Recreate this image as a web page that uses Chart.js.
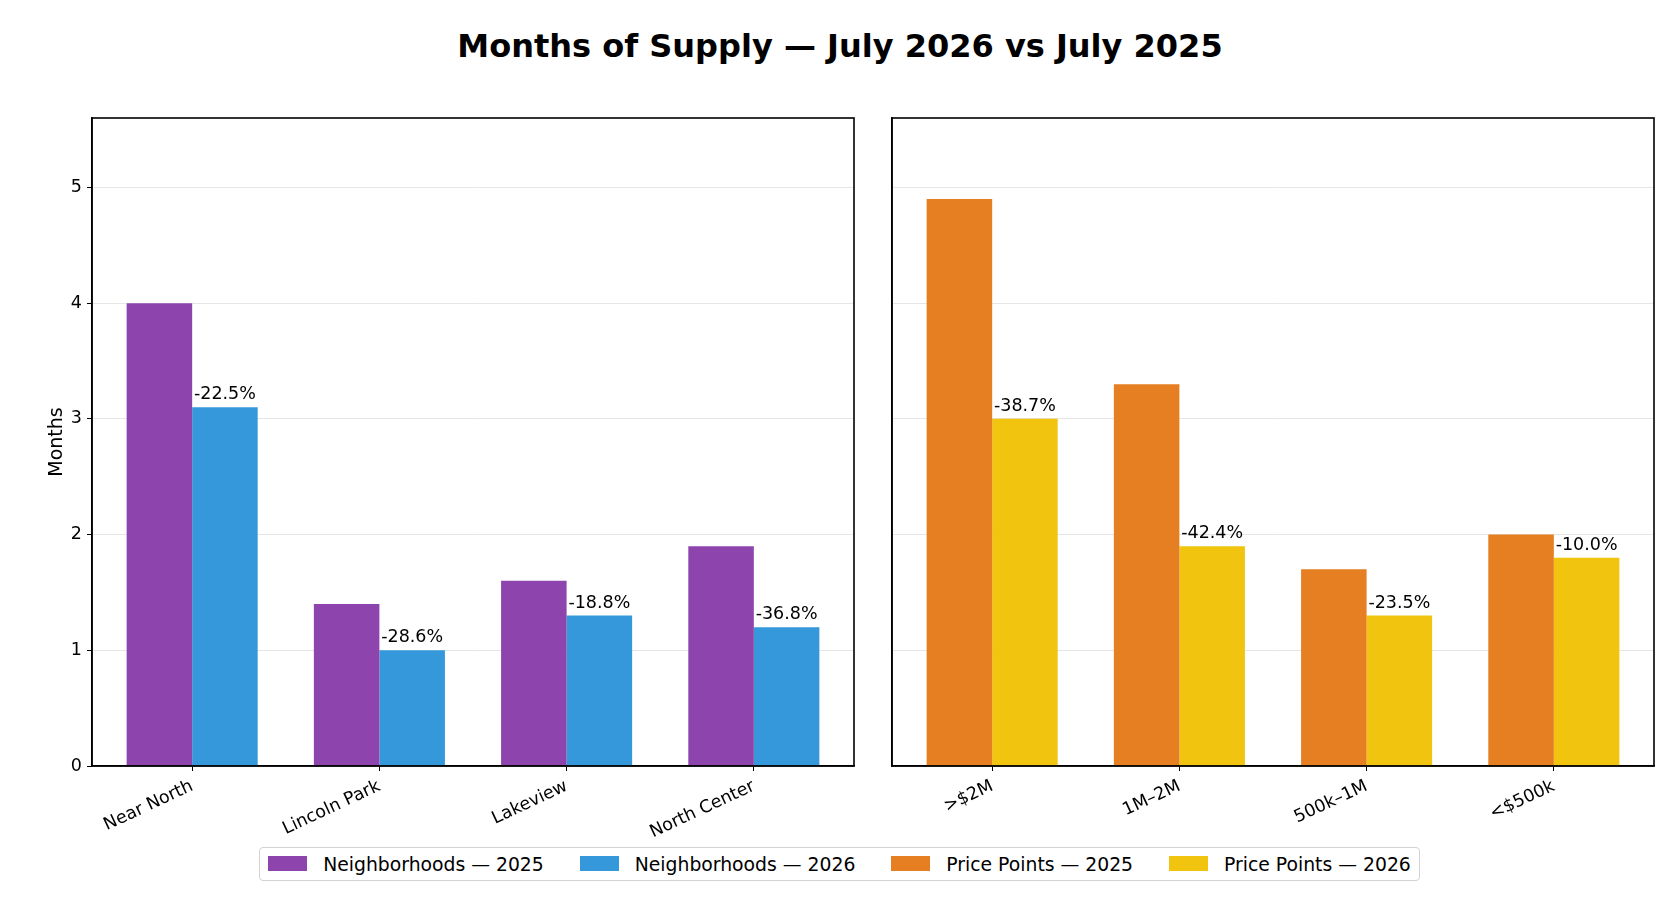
<!DOCTYPE html>
<html>
<head>
<meta charset="utf-8">
<title>Months of Supply</title>
<script src="https://cdn.jsdelivr.net/npm/chart.js@4.4.1/dist/chart.umd.min.js"></script>
<style>
    html, body { margin: 0; padding: 0; background: #fff; }
    body { width: 1680px; height: 913px; position: relative; overflow: hidden; font-family: "DejaVu Sans", sans-serif; }
    #title { position: absolute; left: 0; top: 28px; width: 1680px; text-align: center; font-weight: bold; font-size: 32px; line-height: 36px; color: #000; }
    .panel { position: absolute; top: 0; height: 913px; }
    #leftPanel { left: 0; width: 870px; }
    #rightPanel { left: 870px; width: 810px; }
    #legend { position: absolute; left: 259px; top: 847px; width: 1159px; height: 32px; border: 1px solid #d3d3d3; border-radius: 4px; display: flex; align-items: center; justify-content: center; background: #fff; }
    .item { display: flex; align-items: center; margin-right: 36px; font-size: 18.8px; color: #000; }
    .item:last-child { margin-right: 0; }
    .patch { width: 39px; height: 15px; margin-right: 16px; margin-top: -2px; }
</style>
</head>
<body>
<div id="title">Months of Supply — July 2026 vs July 2025</div>
<div class="panel" id="leftPanel"><canvas id="nbhd"></canvas></div>
<div class="panel" id="rightPanel"><canvas id="price"></canvas></div>
<div id="legend"></div>

<script>
// data
var neighborhoods = ['Near North', 'Lincoln Park', 'Lakeview', 'North Center'];
var nbhd2025 = [4.0, 1.4, 1.6, 1.9];
var nbhd2026 = [3.1, 1.0, 1.3, 1.2];
var nbhdChange = ['-22.5%', '-28.6%', '-18.8%', '-36.8%'];

var pricePoints = ['>$2M', '1M–2M', '500k–1M', '<$500k'];
var price2025 = [4.9, 3.3, 1.7, 2.0];
var price2026 = [3.0, 1.9, 1.3, 1.8];
var priceChange = ['-38.7%', '-42.4%', '-23.5%', '-10.0%'];

var yTicks = [0, 1, 2, 3, 4, 5];

var colors = {
    nbhd2025: '#8e44ad',
    nbhd2026: '#3498db',
    price2025: '#e67e22',
    price2026: '#f1c40f'
};

Chart.defaults.font.family = '"DejaVu Sans", sans-serif';
Chart.defaults.color = '#000';

function points(values) {
    return values.map(function (v, i) {
        return {x: i, y: v};
    });
}

// black box round the plot area
var framePlugin = {
    id: 'frame',
    afterDraw: function (chart) {
        var a = chart.chartArea;
        var ctx = chart.ctx;
        ctx.save();
        ctx.strokeStyle = '#000';
        ctx.lineWidth = 1.6;
        ctx.strokeRect(a.left, a.top, a.right - a.left, a.bottom - a.top);
        ctx.restore();
    }
};

// % change text over the 2026 bars
var changePlugin = {
    id: 'changeLabels',
    afterDatasetsDraw: function (chart, args, opts) {
        var meta = chart.getDatasetMeta(1);
        var ctx = chart.ctx;
        ctx.save();
        ctx.font = '17.5px "DejaVu Sans", sans-serif';
        ctx.fillStyle = '#000';
        ctx.textAlign = 'center';
        ctx.textBaseline = 'alphabetic';
        meta.data.forEach(function (bar, i) {
            ctx.fillText(opts.labels[i], bar.x, bar.y - 8);
        });
        ctx.restore();
    }
};

function makeChart(canvasId, cats, series, names, cols, changes, showY, pad, yWidth) {
    return new Chart(document.getElementById(canvasId), {
        type: 'bar',
        data: {
            datasets: [
                {label: names[0], data: points(series[0]), backgroundColor: cols[0], borderWidth: 0},
                {label: names[1], data: points(series[1]), backgroundColor: cols[1], borderWidth: 0}
            ]
        },
        options: {
            responsive: true,
            maintainAspectRatio: false,
            animation: false,
            categoryPercentage: 0.7,
            barPercentage: 1.0,
            layout: {padding: pad},
            plugins: {
                legend: {display: false},
                tooltip: {enabled: false},
                changeLabels: {labels: changes}
            },
            scales: {
                x: {
                    type: 'linear',
                    offset: false,
                    min: -0.535,
                    max: 3.535,
                    afterBuildTicks: function (scale) {
                        scale.ticks = cats.map(function (c, i) { return {value: i}; });
                    },
                    afterFit: function (scale) {
                        scale.height = 147;
                    },
                    ticks: {
                        autoSkip: false,
                        minRotation: 25,
                        maxRotation: 25,
                        padding: 5,
                        font: {size: 17.5},
                        callback: function (v) { return cats[v]; }
                    },
                    grid: {offset: false, drawOnChartArea: false, drawTicks: true, tickLength: 5, tickColor: '#000', tickWidth: 1},
                    border: {display: true, color: '#000', width: 1.6}
                },
                y: {
                    min: 0,
                    max: 5.6,
                    afterBuildTicks: function (scale) {
                        scale.ticks = yTicks.map(function (v) { return {value: v}; });
                    },
                    afterFit: function (scale) {
                        scale.width = yWidth;
                    },
                    ticks: {display: showY, padding: 5, font: {size: 17.5}},
                    grid: {color: '#e6e6e6', lineWidth: 1, drawTicks: showY, tickLength: 5, tickColor: '#000', tickWidth: 1},
                    border: {display: true, color: '#000', width: 1.6},
                    title: {display: showY, text: 'Months', font: {size: 19}, padding: {top: 46, bottom: 0}}
                }
            }
        },
        plugins: [framePlugin, changePlugin]
    });
}

var nbhdChart = makeChart('nbhd', neighborhoods, [nbhd2025, nbhd2026],
    ['Neighborhoods — 2025', 'Neighborhoods — 2026'], [colors.nbhd2025, colors.nbhd2026],
    nbhdChange, true, {top: 118, right: 16, bottom: 0, left: 0}, 92);

var priceChart = makeChart('price', pricePoints, [price2025, price2026],
    ['Price Points — 2025', 'Price Points — 2026'], [colors.price2025, colors.price2026],
    priceChange, false, {top: 118, right: 26, bottom: 0, left: 0}, 22);

// shared legend under both panels
var legend = document.getElementById('legend');
[nbhdChart, priceChart].forEach(function (chart) {
    chart.data.datasets.forEach(function (ds) {
        var item = document.createElement('div');
        item.className = 'item';
        var patch = document.createElement('span');
        patch.className = 'patch';
        patch.style.background = ds.backgroundColor;
        var text = document.createElement('span');
        text.textContent = ds.label;
        item.appendChild(patch);
        item.appendChild(text);
        legend.appendChild(item);
    });
});
</script>
</body>
</html>
